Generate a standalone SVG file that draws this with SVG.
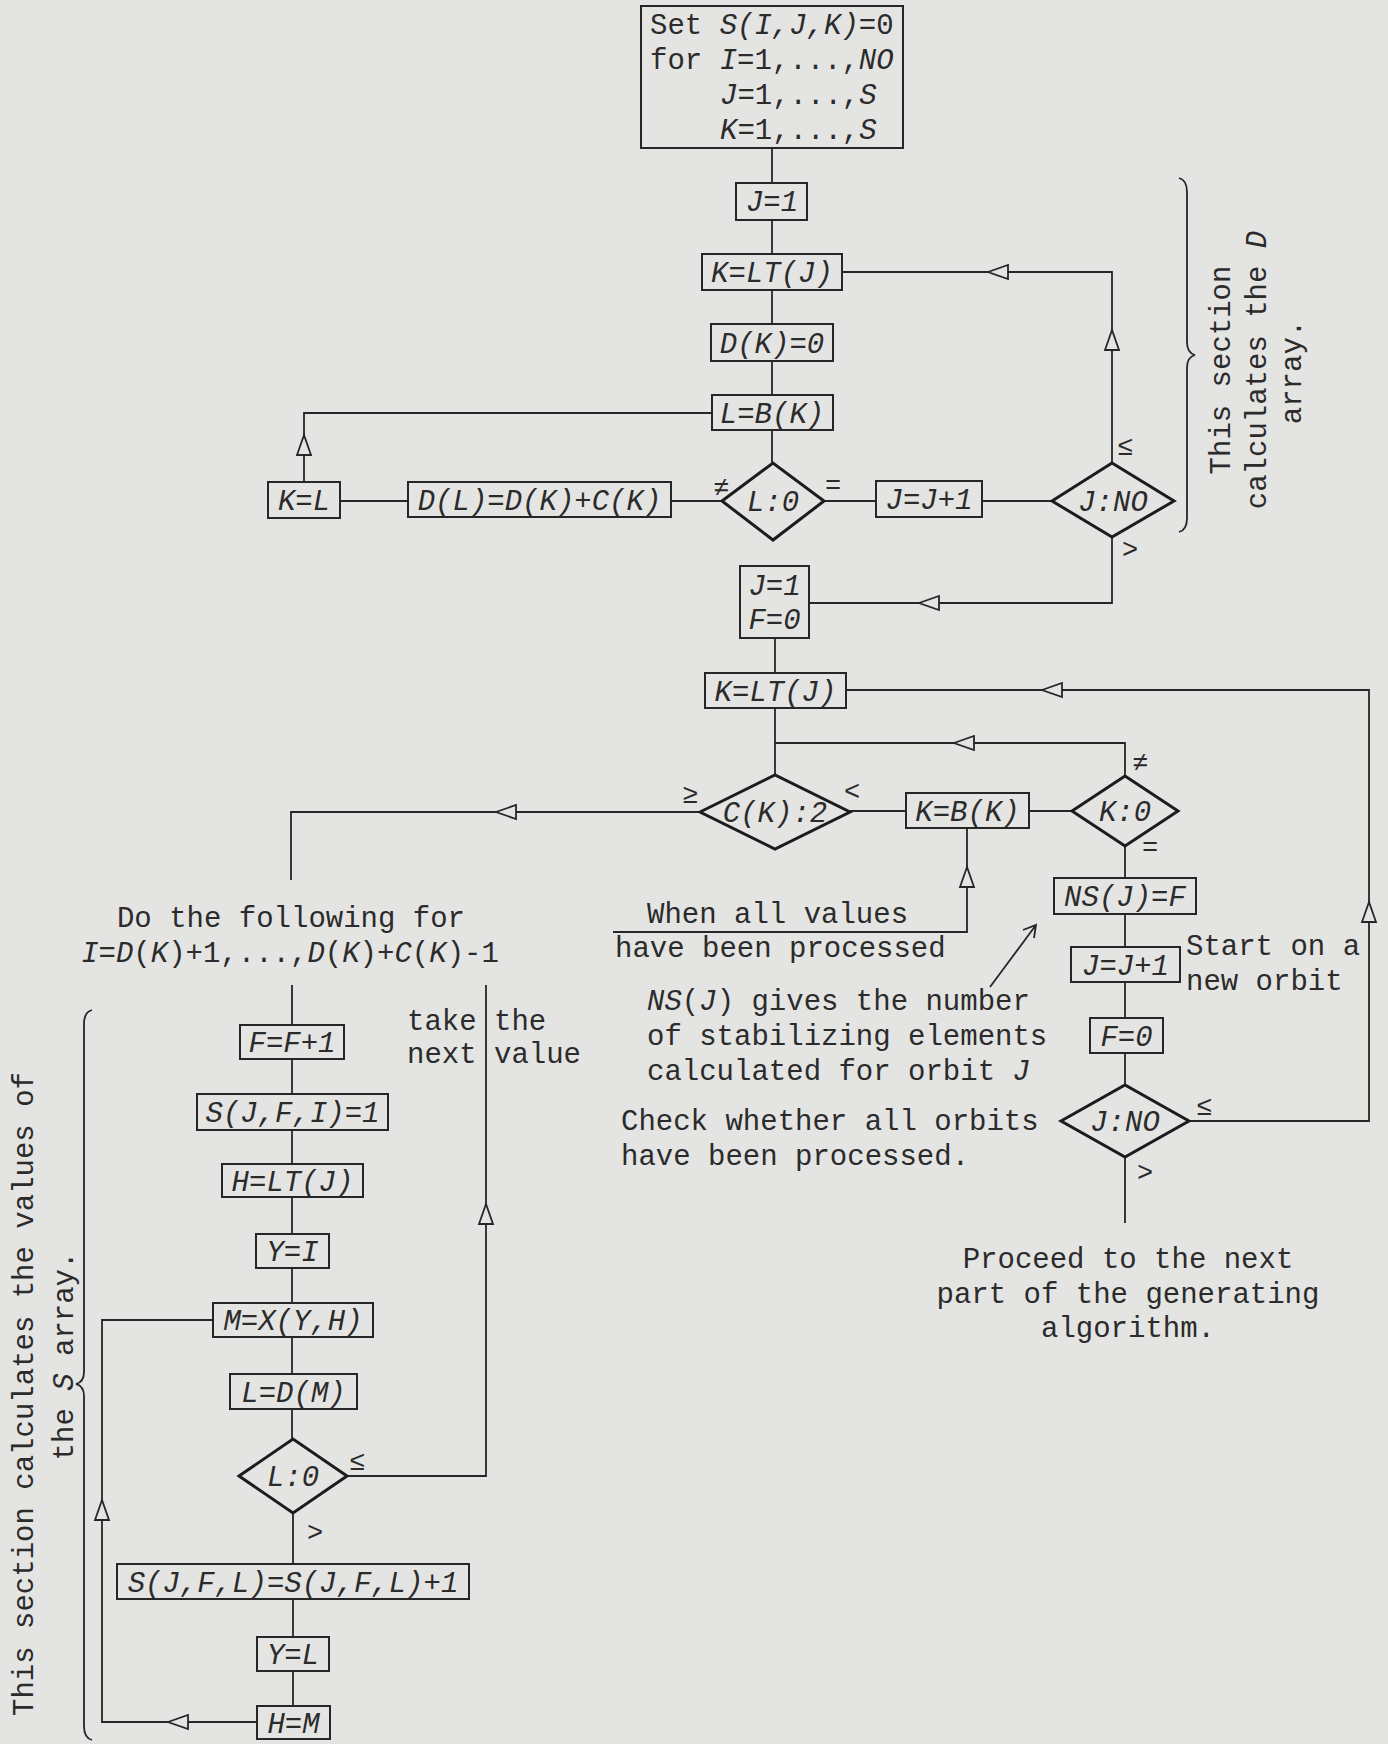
<svg xmlns="http://www.w3.org/2000/svg" xmlns:xlink="http://www.w3.org/1999/xlink" width="1388" height="1744" viewBox="0 0 1388 1744">
<style>
  .bg { fill: #e4e4e2; }
  .bx { fill: none; stroke: #262626; stroke-width: 2; }
  .dm { fill: none; stroke: #1c1c1c; stroke-width: 3; stroke-linejoin: miter; }
  .ln { fill: none; stroke: #262626; stroke-width: 1.8; }
  .ah { fill: #e4e4e2; stroke: #262626; stroke-width: 1.8; }
  .t { font-family: "Liberation Mono", "DejaVu Sans Mono", monospace; font-size: 29px; fill: #2b2b2b; }
  .m { font-style: italic; }
  .c { text-anchor: middle; }
  .rel { font-family: "Liberation Mono", "DejaVu Sans Mono", monospace; font-size: 27px; fill: #2b2b2b; text-anchor: middle; }
</style>
<defs>
  <!-- open arrowheads, tip at the origin -->
  <path id="ah-left" class="ah" d="M0,0 L20,-7 L20,7 Z"/>
  <path id="ah-up" class="ah" d="M0,0 L-7,20 L7,20 Z"/>
</defs>

<rect class="bg" x="0" y="0" width="1388" height="1744"/>

<!-- connectors -->
<g id="connectors">
  <path class="ln" d="M772,148 V183 M772,220 V254 M772,290 V324 M772,361 V395 M772,430 V463"/>
  <path class="ln" d="M722,501 H671 M408,501 H340"/>
  <path class="ln" d="M304,482 V413 H712"/>
  <path class="ln" d="M824,501 H876 M982,501 H1052"/>
  <path class="ln" d="M1112,463 V272 H842"/>
  <path class="ln" d="M1112,537 V603 H809"/>
  <path class="ln" d="M775,638 V673"/>
  <path class="ln" d="M846,690 H1369 V1121 H1189"/>
  <path class="ln" d="M775,708 V775 M775,743 H1125 V776"/>
  <path class="ln" d="M1072,811 H1029 M906,811 H850"/>
  <path class="ln" d="M700,812 H291 V880"/>
  <path class="ln" d="M967,828 V932 H613"/>
  <path class="ln" d="M1125,846 V878 M1125,914 V947 M1125,982 V1018 M1125,1053 V1085 M1125,1157 V1223"/>
  <path class="ln" d="M990,987 L1036,925 M1023,930 L1036,925 L1034,938"/>
  <path class="ln" d="M292,985 V1025 M292,1059 V1094 M292,1130 V1164 M292,1197 V1234 M292,1268 V1303 M292,1337 V1374 M292,1409 V1439"/>
  <path class="ln" d="M293,1513 V1564 M293,1599 V1637 M293,1671 V1706"/>
  <path class="ln" d="M347,1476 H486 V985"/>
  <path class="ln" d="M257,1722 H102 V1320 H213"/>
  <use xlink:href="#ah-up" x="304" y="435"/>
  <use xlink:href="#ah-up" x="1112" y="330"/>
  <use xlink:href="#ah-left" x="988" y="272"/>
  <use xlink:href="#ah-left" x="919" y="603"/>
  <use xlink:href="#ah-left" x="1042" y="690"/>
  <use xlink:href="#ah-up" x="1369" y="902"/>
  <use xlink:href="#ah-left" x="954" y="743"/>
  <use xlink:href="#ah-left" x="496" y="812"/>
  <use xlink:href="#ah-up" x="967" y="867"/>
  <use xlink:href="#ah-up" x="486" y="1204"/>
  <use xlink:href="#ah-left" x="168" y="1722"/>
  <use xlink:href="#ah-up" x="102" y="1500"/>
  <!-- branch labels -->
  <text class="rel" x="721" y="496">≠</text>
  <text class="rel" x="833" y="494">=</text>
  <text class="rel" x="1125" y="455">≤</text>
  <text class="rel" x="1130" y="558">&gt;</text>
  <text class="rel" x="1140" y="771">≠</text>
  <text class="rel" x="690" y="803">≥</text>
  <text class="rel" x="852" y="800">&lt;</text>
  <text class="rel" x="1150" y="856">=</text>
  <text class="rel" x="1204" y="1115">≤</text>
  <text class="rel" x="1145" y="1181">&gt;</text>
  <text class="rel" x="357" y="1470">≤</text>
  <text class="rel" x="315" y="1541">&gt;</text>
</g>

<!-- D array section -->
<g id="n_init">
  <rect class="bx" x="641" y="6" width="262" height="142"/>
  <text class="t" x="650" y="34">Set <tspan class="m">S(I,J,K)</tspan>=0</text>
  <text class="t" x="650" y="69">for <tspan class="m">I</tspan>=1,...,<tspan class="m">NO</tspan></text>
  <text class="t" x="720" y="104"><tspan class="m">J</tspan>=1,...,<tspan class="m">S</tspan></text>
  <text class="t" x="720" y="139"><tspan class="m">K</tspan>=1,...,<tspan class="m">S</tspan></text>
</g>
<g id="n_j1"><rect class="bx" x="736" y="183" width="71" height="37"/><text class="t m c" x="772" y="211">J=1</text></g>
<g id="n_klt1"><rect class="bx" x="702" y="254" width="140" height="36"/><text class="t m c" x="772" y="282">K=LT(J)</text></g>
<g id="n_dk0"><rect class="bx" x="711" y="324" width="122" height="37"/><text class="t m c" x="772" y="353">D(K)=0</text></g>
<g id="n_lbk"><rect class="bx" x="712" y="395" width="121" height="35"/><text class="t m c" x="772" y="423">L=B(K)</text></g>
<g id="n_l0"><path class="dm" d="M722,501 L773,463 L824,501 L773,540 Z"/><text class="t m c" x="773" y="511">L:0</text></g>
<g id="n_kl"><rect class="bx" x="268" y="482" width="72" height="36"/><text class="t m c" x="304" y="510">K=L</text></g>
<g id="n_dl"><rect class="bx" x="408" y="482" width="263" height="35"/><text class="t m c" x="539.5" y="510">D(L)=D(K)+C(K)</text></g>
<g id="n_jinc1"><rect class="bx" x="876" y="481" width="106" height="36"/><text class="t m c" x="929" y="509">J=J+1</text></g>
<g id="n_jno1"><path class="dm" d="M1052,501 L1112,463 L1174,501 L1112,537 Z"/><text class="t m c" x="1113" y="511">J:NO</text></g>
<g id="n_note_d">
  <path class="ln" d="M1179,178 Q1187,180 1187,192 V342 Q1187,353 1195,355 Q1187,357 1187,368 V518 Q1187,530 1179,532"/>
  <text class="t c" transform="translate(1230,370) rotate(-90)">This section</text>
  <text class="t c" transform="translate(1266,370) rotate(-90)">calculates the <tspan class="m">D</tspan></text>
  <text class="t c" transform="translate(1301,372) rotate(-90)">array.</text>
</g>

<!-- stabilizing element section -->
<g id="n_j1f0"><rect class="bx" x="740" y="566" width="69" height="72"/><text class="t m c" x="774.5" y="595">J=1</text><text class="t m c" x="774.5" y="629">F=0</text></g>
<g id="n_klt2"><rect class="bx" x="705" y="673" width="141" height="35"/><text class="t m c" x="775.5" y="701">K=LT(J)</text></g>
<g id="n_ck2"><path class="dm" d="M700,812 L775,775 L850,812 L775,849 Z"/><text class="t m c" x="775" y="822">C(K):2</text></g>
<g id="n_kbk"><rect class="bx" x="906" y="793" width="123" height="35"/><text class="t m c" x="967.5" y="821">K=B(K)</text></g>
<g id="n_k0"><path class="dm" d="M1072,811 L1125,776 L1178,811 L1125,846 Z"/><text class="t m c" x="1125" y="821">K:0</text></g>
<g id="n_nsj"><rect class="bx" x="1054" y="878" width="142" height="36"/><text class="t m c" x="1125" y="906">NS(J)=F</text></g>
<g id="n_jinc2"><rect class="bx" x="1071" y="947" width="109" height="35"/><text class="t m c" x="1125.5" y="975">J=J+1</text></g>
<g id="n_f0"><rect class="bx" x="1090" y="1018" width="73" height="35"/><text class="t m c" x="1126.5" y="1046">F=0</text></g>
<g id="n_jno2"><path class="dm" d="M1061,1121 L1125,1085 L1189,1121 L1125,1157 Z"/><text class="t m c" x="1125" y="1131">J:NO</text></g>

<g id="n_notes_right">
  <text class="t" x="647" y="923">When all values</text>
  <text class="t" x="615" y="957">have been processed</text>
  <text class="t" x="647" y="1010"><tspan class="m">NS</tspan>(<tspan class="m">J</tspan>) gives the number</text>
  <text class="t" x="647" y="1045">of stabilizing elements</text>
  <text class="t" x="647" y="1080">calculated for orbit  <tspan class="m">J</tspan></text>
  <text class="t" x="621" y="1130">Check whether all orbits</text>
  <text class="t" x="621" y="1165">have been processed.</text>
  <text class="t" x="1186" y="955">Start on a</text>
  <text class="t" x="1186" y="990">new orbit</text>
  <text class="t c" x="1128" y="1268">Proceed to the next</text>
  <text class="t c" x="1128" y="1303">part of the generating</text>
  <text class="t c" x="1128" y="1337">algorithm.</text>
</g>

<!-- S array section -->
<g id="n_loop_head">
  <text class="t c" x="291" y="927">Do the following for</text>
  <text class="t c" x="290" y="962"><tspan class="m">I</tspan>=<tspan class="m">D</tspan>(<tspan class="m">K</tspan>)+1,...,<tspan class="m">D</tspan>(<tspan class="m">K</tspan>)+<tspan class="m">C</tspan>(<tspan class="m">K</tspan>)-1</text>
  <text class="t" x="407" y="1030">take</text>
  <text class="t" x="494" y="1030">the</text>
  <text class="t" x="407" y="1063">next</text>
  <text class="t" x="494" y="1063">value</text>
</g>
<g id="n_finc"><rect class="bx" x="240" y="1025" width="104" height="34"/><text class="t m c" x="292" y="1052">F=F+1</text></g>
<g id="n_sjfi"><rect class="bx" x="197" y="1094" width="191" height="36"/><text class="t m c" x="292.5" y="1122">S(J,F,I)=1</text></g>
<g id="n_hlt"><rect class="bx" x="222" y="1164" width="141" height="33"/><text class="t m c" x="292.5" y="1191">H=LT(J)</text></g>
<g id="n_yi"><rect class="bx" x="256" y="1234" width="73" height="34"/><text class="t m c" x="292.5" y="1261">Y=I</text></g>
<g id="n_mx"><rect class="bx" x="213" y="1303" width="160" height="34"/><text class="t m c" x="293" y="1330">M=X(Y,H)</text></g>
<g id="n_ldm"><rect class="bx" x="230" y="1374" width="127" height="35"/><text class="t m c" x="293.5" y="1402">L=D(M)</text></g>
<g id="n_l0b"><path class="dm" d="M239,1476 L293,1439 L347,1476 L293,1513 Z"/><text class="t m c" x="293" y="1486">L:0</text></g>
<g id="n_sjfl"><rect class="bx" x="117" y="1564" width="352" height="35"/><text class="t m c" x="293" y="1592">S(J,F,L)=S(J,F,L)+1</text></g>
<g id="n_yl"><rect class="bx" x="257" y="1637" width="72" height="34"/><text class="t m c" x="293" y="1664">Y=L</text></g>
<g id="n_hm"><rect class="bx" x="257" y="1706" width="73" height="33"/><text class="t m c" x="293.5" y="1733">H=M</text></g>
<g id="n_note_s">
  <path class="ln" d="M92,1010 Q84,1012 84,1024 V1372 Q84,1382 76,1384 Q84,1386 84,1396 V1726 Q84,1738 92,1740"/>
  <text class="t c" transform="translate(33,1394) rotate(-90)">This section calculates the values of</text>
  <text class="t c" transform="translate(73,1356) rotate(-90)">the <tspan class="m">S</tspan> array.</text>
</g>
</svg>
